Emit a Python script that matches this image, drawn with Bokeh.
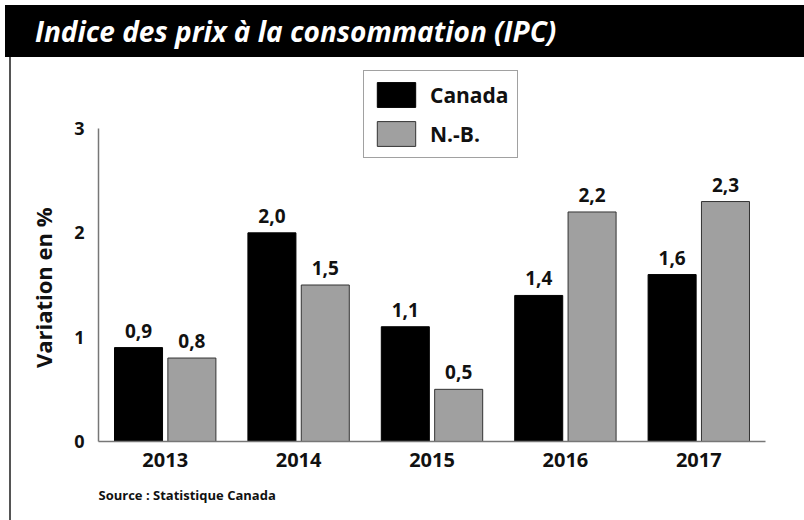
from bokeh.plotting import figure
from bokeh.models import ColumnDataSource, FactorRange, Range1d, Title, Div
from bokeh.transform import dodge
from bokeh.core.properties import value
from bokeh.layouts import column
from bokeh.embed import file_html
from bokeh.resources import INLINE

years = ["2013", "2014", "2015", "2016", "2017"]
canada = [0.9, 2.0, 1.1, 1.4, 1.6]
nb = [0.8, 1.5, 0.5, 2.2, 2.3]
y_ticks = [0, 1, 2, 3]

FONT = "Open Sans"

def fmt(v):
    return f"{v:.1f}".replace(".", ",")

src = ColumnDataSource(dict(
    year=years, canada=canada, nb=nb,
    canada_lbl=[fmt(v) for v in canada],
    nb_lbl=[fmt(v) for v in nb],
))

header = Div(text="Indice des prix à la consommation (IPC)", width=804, height=57,
             margin=0,
             styles={"background-color": "black", "color": "white",
                     "font-family": FONT, "font-weight": "bold",
                     "font-style": "italic", "font-size": "28px",
                     "border-top": "5px solid white", "border-left": "5px solid white",
                     "box-sizing": "border-box", "padding-left": "30px",
                     "line-height": "52px", "white-space": "nowrap",
                     "overflow": "hidden"})

p = figure(width=793, height=463, output_backend="svg", toolbar_location=None,
           x_range=FactorRange(*years), y_range=Range1d(0, 3.604),
           min_border_left=87, min_border_right=39, min_border_top=8,
           min_border_bottom=79, outline_line_color=None,
           margin=(0, 0, 0, 9),
           styles={"border-left": "2px solid #555555"})

p.vbar(x=dodge("year", -0.2, range=p.x_range), top="canada", width=0.36,
       source=src, fill_color="black", line_color="black", line_width=1,
       legend_label="Canada")
p.vbar(x=dodge("year", 0.2, range=p.x_range), top="nb", width=0.36,
       source=src, fill_color="#a0a0a0", line_color="#333333", line_width=1,
       legend_label="N.-B.")

p.text(x=dodge("year", -0.2, range=p.x_range), y="canada", text="canada_lbl",
       source=src, text_align="center", text_baseline="bottom", y_offset=-10,
       text_font=value(FONT), text_font_size="19px", text_font_style="bold",
       text_color="#111111")
p.text(x=dodge("year", 0.2, range=p.x_range), y="nb", text="nb_lbl",
       source=src, text_align="center", text_baseline="bottom", y_offset=-10,
       text_font=value(FONT), text_font_size="19px", text_font_style="bold",
       text_color="#111111")

p.xgrid.grid_line_color = None
p.ygrid.grid_line_color = None

p.yaxis.ticker = y_ticks
p.yaxis.bounds = (0, 3)
# trailing non-breaking spaces re-centre the label on the 0-3 axis span
p.yaxis.axis_label = "Variation en %" + "\u00a0" * 12
p.yaxis.axis_label_text_font = FONT
p.yaxis.axis_label_text_font_size = "22px"
p.yaxis.axis_label_text_font_style = "bold"
p.yaxis.axis_label_text_color = "#111111"
p.yaxis.axis_label_standoff = 13
p.yaxis.major_label_text_font = FONT
p.yaxis.major_label_text_font_style = "bold"
p.yaxis.major_label_text_font_size = "18px"
p.yaxis.major_label_text_color = "#111111"
p.yaxis.major_label_standoff = 14

for ax in (p.xaxis, p.yaxis):
    ax.axis_line_color = "#777777"
    ax.axis_line_width = 1.5
    ax.major_tick_line_color = None
    ax.minor_tick_line_color = None
    ax.major_tick_out = 0
    ax.major_tick_in = 0

p.xaxis.major_label_text_font = FONT
p.xaxis.major_label_text_font_size = "20px"
p.xaxis.major_label_text_font_style = "bold"
p.xaxis.major_label_text_color = "#111111"
p.xaxis.major_label_standoff = 11

p.add_layout(Title(text="Source : Statistique Canada", align="left",
                   text_font=FONT, text_font_size="13px",
                   text_font_style="bold", text_color="#111111",
                   standoff=28), "below")

lg = p.legend[0]
lg.location = (265, 283)
lg.border_line_color = "#444444"
lg.border_line_width = 1.5
lg.padding = 8
lg.spacing = 8
lg.margin = 0
lg.glyph_width = 48
lg.glyph_height = 31
lg.label_standoff = 10
lg.label_text_font = FONT
lg.label_text_font_size = "21px"
lg.label_text_font_style = "bold"
lg.label_text_color = "#111111"

layout = column(header, p, spacing=0)
open("out.html", "w").write(file_html(layout, INLINE))
